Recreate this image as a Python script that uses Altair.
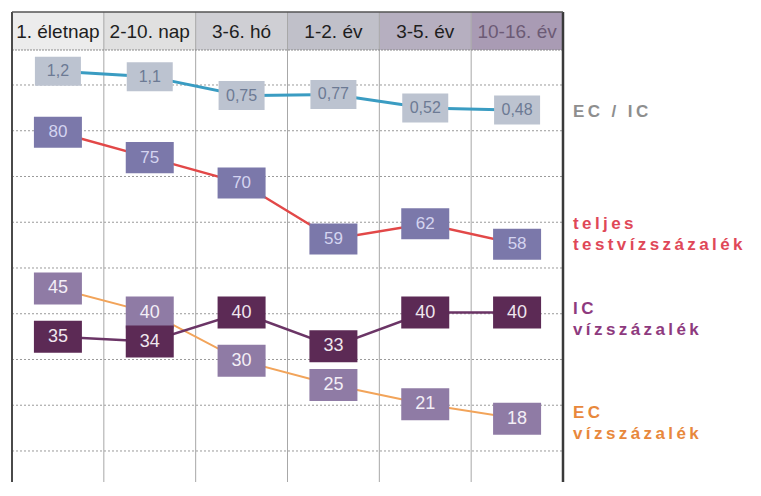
import altair as alt
import pandas as pd

# ---- data ----
cols = ["1. életnap", "2-10. nap", "3-6. hó", "1-2. év", "3-5. év", "10-16. év"]
ec_ic_ratio = [1.2, 1.1, 0.75, 0.77, 0.52, 0.48]
total_water = [80, 75, 70, 59, 62, 58]
ic_water = [35, 34, 40, 33, 40, 40]
ec_water = [45, 40, 30, 25, 21, 18]
grid_rows = list(range(9))

label_ratio = "EC / IC"
label_total = "teljes\ntestvízszázalék"
label_ic = "IC\nvízszázalék"
label_ec = "EC\nvízszázalék"

# ---- layout / style ----
W, H = 551, 470
HEAD = 38
FONT = "Liberation Sans"
HEAD_FILL = ["#ececec", "#e0e0e0", "#cfcfd4", "#c0c0c9", "#b6afc0", "#a99bb4"]


def spaced(s):
    return "\n".join("\u2009".join(part) for part in s.split("\n"))


def box_path(ratio):
    return f"M-1,-{ratio} L1,-{ratio} L1,{ratio} L-1,{ratio} Z"


xscale = alt.Scale(type="band", domain=cols, paddingInner=0, paddingOuter=0)
X = alt.X("col:N", scale=xscale, axis=None)

head_df = pd.DataFrame({"col": cols})
one = pd.DataFrame({"a": [0]})

header_rect = alt.Chart(head_df).mark_rect(strokeWidth=0).encode(
    x=X, y=alt.value(0), y2=alt.value(HEAD),
    color=alt.Color("col:N", scale=alt.Scale(domain=cols, range=HEAD_FILL), legend=None),
)
header_text = alt.Chart(head_df).mark_text(
    font=FONT, fontSize=19, align="center", baseline="middle"
).encode(
    x=X, y=alt.value(HEAD / 2 + 1), text="col:N",
    color=alt.condition(alt.datum.col == cols[-1], alt.value("#6c5a75"), alt.value("#1e1e1e")),
)

grid = alt.Chart(pd.DataFrame({"g": grid_rows})).mark_rule(
    color="#9a9a9a", strokeDash=[2, 2], strokeWidth=1
).encode(
    y=alt.Y("g:Q", scale=alt.Scale(domain=[-1.5956, 8.678], reverse=True, nice=False, zero=False), axis=None),
    x=alt.value(0), x2=alt.value(W),
)
head_line = alt.Chart(one).mark_rule(color="#8a8a8a", strokeDash=[2, 1], strokeWidth=1.2).encode(
    y=alt.value(HEAD), x=alt.value(0), x2=alt.value(W)
)
col_lines = alt.Chart(head_df.iloc[1:]).mark_rule(color="#a8a8a8", strokeWidth=1).encode(
    x=alt.X("col:N", scale=xscale, axis=None, bandPosition=0),
    y=alt.value(0), y2=alt.value(H),
)
left_border = alt.Chart(one).mark_rule(color="#4a4a4a", strokeWidth=2).encode(
    x=alt.value(0), y=alt.value(0), y2=alt.value(H)
)
right_border = alt.Chart(one).mark_rule(color="#3a3a3a", strokeWidth=2.5).encode(
    x=alt.value(W), y=alt.value(0), y2=alt.value(H)
)
top_border = alt.Chart(one).mark_rule(color="#555555", strokeWidth=1.5).encode(
    y=alt.value(0), x=alt.value(0), x2=alt.value(W)
)


def series_df(vals, comma=False):
    return pd.DataFrame({
        "col": cols,
        "v": vals,
        "lbl": [str(v).replace(".", ",") if comma else str(v) for v in vals],
    })


def series_layers(df, Y, line_color, line_w, box_color, box_w, box_h, txt_color, fsize,
                  label, label_color, label_dy):
    line = alt.Chart(df).mark_line(color=line_color, strokeWidth=line_w).encode(x=X, y=Y)
    box = alt.Chart(df).mark_point(
        shape=box_path(round(box_h / box_w, 3)), filled=True, size=box_w ** 2,
        color=box_color, opacity=1, strokeWidth=0,
    ).encode(x=X, y=Y)
    txt = alt.Chart(df).mark_text(
        font=FONT, fontSize=fsize, color=txt_color, align="center", baseline="middle"
    ).encode(x=X, y=Y, text="lbl:N")
    lab = alt.Chart(df.tail(1)).mark_text(
        font=FONT, fontSize=17, fontWeight="bold", color=label_color, align="left",
        baseline="middle", lineBreak="\n", lineHeight=21, dy=label_dy,
    ).encode(x=alt.value(W + 10), y=Y, text=alt.value(spaced(label)))
    return line, box, txt, lab


# EC/IC ratio
r_df = series_df(ec_ic_ratio, comma=True)
Yr = alt.Y("v:Q", scale=alt.Scale(domain=[-6.407, 2.297], nice=False, zero=False), axis=None)
rl, rb, rt, rlab = series_layers(r_df, Yr, "#3a9cc2", 3, "#bcc3d0", 46, 29, "#6c7a94", 16,
                                 label_ratio, "#8e8e8e", 2)
ratio_group = alt.layer(rl, rb, rt, rlab)

# total body water
t_df = series_df(total_water)
Yt = alt.Y("v:Q", scale=alt.Scale(domain=[11.27, 103.61], nice=False, zero=False), axis=None)
tl, tb, tt, tlab = series_layers(t_df, Yt, "#e24848", 2.5, "#7b78aa", 48, 31, "#d4d4f0", 17,
                                 label_total, "#df4858", -20)
total_group = alt.layer(tl, tb, tt, tlab)

# IC / EC water
Yp = alt.Y("v:Q", scale=alt.Scale(domain=[4.88, 102.31], nice=False, zero=False), axis=None)
i_df = series_df(ic_water)
e_df = series_df(ec_water)
il, ib, it, ilab = series_layers(i_df, Yp, "#6b3566", 2.5, "#5c2a55", 48, 32, "#efe6ee", 18,
                                 label_ic, "#8e3a7e", -4)
el, eb, et, elab = series_layers(e_df, Yp, "#f2a45a", 2, "#8f7ba5", 48, 32, "#f3eef6", 18,
                                 label_ec, "#e8883c", -6)
icec_group = alt.layer(el, il, eb, ib, et, it, ilab, elab)

chart = alt.layer(
    header_rect, grid, col_lines, head_line, header_text,
    left_border, right_border, top_border,
    ratio_group, total_group, icec_group,
).resolve_scale(y="independent").properties(
    width=W, height=H,
    padding={"left": 4, "top": 4, "right": 190, "bottom": 4},
    autosize=alt.AutoSizeParams(type="none"),
    background="white",
).configure_view(strokeWidth=0)

chart.save("out.html", embed_options={"renderer": "svg", "actions": False})
